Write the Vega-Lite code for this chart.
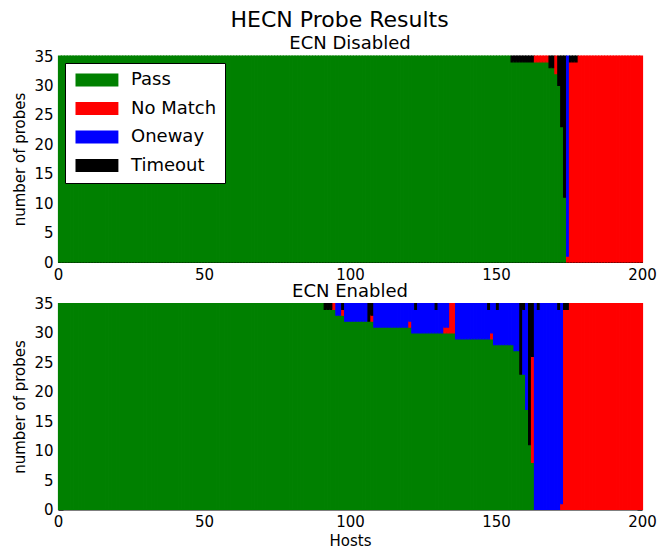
{
"$schema": "https://vega.github.io/schema/vega-lite/v6.json",
"padding": {"left": 12, "top": 9, "right": 0, "bottom": 0},
"title": {"text": "HECN Probe Results", "fontSize": 22, "offset": 3, "anchor": "middle", "dx": 5},
"config": {
  "font": "DejaVu Sans",
  "view": {"stroke": null},
  "title": {"font": "DejaVu Sans", "fontWeight": "normal", "color": "black"},
  "axis": {"domainColor": "black", "domainWidth": 1, "tickColor": "black", "tickWidth": 1, "tickSize": -5, "labelPadding": 10, "labelFontSize": 15, "labelFont": "DejaVu Sans", "labelColor": "black", "titleFont": "DejaVu Sans", "titleFontSize": 15, "titleFontWeight": "normal", "titleColor": "black", "titlePadding": 6, "grid": false, "zindex": 1, "labelFlush": false, "labelOverlap": false}
},
"datasets": {
"dis": [
{"h":0,"a":35},{"h":1,"a":35},{"h":2,"a":35},{"h":3,"a":35},{"h":4,"a":35},{"h":5,"a":35},{"h":6,"a":35},{"h":7,"a":35},{"h":8,"a":35},{"h":9,"a":35},
{"h":10,"a":35},{"h":11,"a":35},{"h":12,"a":35},{"h":13,"a":35},{"h":14,"a":35},{"h":15,"a":35},{"h":16,"a":35},{"h":17,"a":35},{"h":18,"a":35},{"h":19,"a":35},
{"h":20,"a":35},{"h":21,"a":35},{"h":22,"a":35},{"h":23,"a":35},{"h":24,"a":35},{"h":25,"a":35},{"h":26,"a":35},{"h":27,"a":35},{"h":28,"a":35},{"h":29,"a":35},
{"h":30,"a":35},{"h":31,"a":35},{"h":32,"a":35},{"h":33,"a":35},{"h":34,"a":35},{"h":35,"a":35},{"h":36,"a":35},{"h":37,"a":35},{"h":38,"a":35},{"h":39,"a":35},
{"h":40,"a":35},{"h":41,"a":35},{"h":42,"a":35},{"h":43,"a":35},{"h":44,"a":35},{"h":45,"a":35},{"h":46,"a":35},{"h":47,"a":35},{"h":48,"a":35},{"h":49,"a":35},
{"h":50,"a":35},{"h":51,"a":35},{"h":52,"a":35},{"h":53,"a":35},{"h":54,"a":35},{"h":55,"a":35},{"h":56,"a":35},{"h":57,"a":35},{"h":58,"a":35},{"h":59,"a":35},
{"h":60,"a":35},{"h":61,"a":35},{"h":62,"a":35},{"h":63,"a":35},{"h":64,"a":35},{"h":65,"a":35},{"h":66,"a":35},{"h":67,"a":35},{"h":68,"a":35},{"h":69,"a":35},
{"h":70,"a":35},{"h":71,"a":35},{"h":72,"a":35},{"h":73,"a":35},{"h":74,"a":35},{"h":75,"a":35},{"h":76,"a":35},{"h":77,"a":35},{"h":78,"a":35},{"h":79,"a":35},
{"h":80,"a":35},{"h":81,"a":35},{"h":82,"a":35},{"h":83,"a":35},{"h":84,"a":35},{"h":85,"a":35},{"h":86,"a":35},{"h":87,"a":35},{"h":88,"a":35},{"h":89,"a":35},
{"h":90,"a":35},{"h":91,"a":35},{"h":92,"a":35},{"h":93,"a":35},{"h":94,"a":35},{"h":95,"a":35},{"h":96,"a":35},{"h":97,"a":35},{"h":98,"a":35},{"h":99,"a":35},
{"h":100,"a":35},{"h":101,"a":35},{"h":102,"a":35},{"h":103,"a":35},{"h":104,"a":35},{"h":105,"a":35},{"h":106,"a":35},{"h":107,"a":35},{"h":108,"a":35},{"h":109,"a":35},
{"h":110,"a":35},{"h":111,"a":35},{"h":112,"a":35},{"h":113,"a":35},{"h":114,"a":35},{"h":115,"a":35},{"h":116,"a":35},{"h":117,"a":35},{"h":118,"a":35},{"h":119,"a":35},
{"h":120,"a":35},{"h":121,"a":35},{"h":122,"a":35},{"h":123,"a":35},{"h":124,"a":35},{"h":125,"a":35},{"h":126,"a":35},{"h":127,"a":35},{"h":128,"a":35},{"h":129,"a":35},
{"h":130,"a":35},{"h":131,"a":35},{"h":132,"a":35},{"h":133,"a":35},{"h":134,"a":35},{"h":135,"a":35},{"h":136,"a":35},{"h":137,"a":35},{"h":138,"a":35},{"h":139,"a":35},
{"h":140,"a":35},{"h":141,"a":35},{"h":142,"a":35},{"h":143,"a":35},{"h":144,"a":35},{"h":145,"a":35},{"h":146,"a":35},{"h":147,"a":35},{"h":148,"a":35},{"h":149,"a":35},
{"h":150,"a":35},{"h":151,"a":35},{"h":152,"a":35},{"h":153,"a":35},{"h":154,"a":35},
{"h":155,"a":34,"d":1},{"h":156,"a":34,"d":1},{"h":157,"a":34,"d":1},{"h":158,"a":34,"d":1},{"h":159,"a":34,"d":1},{"h":160,"a":34,"d":1},{"h":161,"a":34,"d":1},{"h":162,"a":34,"d":1},
{"h":163,"a":34,"b":1},{"h":164,"a":34,"b":1},{"h":165,"a":34,"b":1},{"h":166,"a":34,"b":1},{"h":167,"a":34,"b":1},
{"h":168,"a":33,"d":2},{"h":169,"a":33,"d":2},
{"h":170,"a":32,"b":3},
{"h":171,"a":30,"d":5},
{"h":172,"a":23,"d":12},
{"h":173,"a":11,"d":24},
{"h":174,"b":1,"c":34},
{"h":175,"b":34,"d":1},{"h":176,"b":34,"d":1},{"h":177,"b":34,"d":1},
{"h":178,"b":35},{"h":179,"b":35},{"h":180,"b":35},{"h":181,"b":35},{"h":182,"b":35},{"h":183,"b":35},{"h":184,"b":35},{"h":185,"b":35},{"h":186,"b":35},{"h":187,"b":35},
{"h":188,"b":35},{"h":189,"b":35},{"h":190,"b":35},{"h":191,"b":35},{"h":192,"b":35},{"h":193,"b":35},{"h":194,"b":35},{"h":195,"b":35},{"h":196,"b":35},{"h":197,"b":35},
{"h":198,"b":35},{"h":199,"b":35}
],
"ena": [
{"h":0,"a":35},{"h":1,"a":35},{"h":2,"a":35},{"h":3,"a":35},{"h":4,"a":35},{"h":5,"a":35},{"h":6,"a":35},{"h":7,"a":35},{"h":8,"a":35},{"h":9,"a":35},
{"h":10,"a":35},{"h":11,"a":35},{"h":12,"a":35},{"h":13,"a":35},{"h":14,"a":35},{"h":15,"a":35},{"h":16,"a":35},{"h":17,"a":35},{"h":18,"a":35},{"h":19,"a":35},
{"h":20,"a":35},{"h":21,"a":35},{"h":22,"a":35},{"h":23,"a":35},{"h":24,"a":35},{"h":25,"a":35},{"h":26,"a":35},{"h":27,"a":35},{"h":28,"a":35},{"h":29,"a":35},
{"h":30,"a":35},{"h":31,"a":35},{"h":32,"a":35},{"h":33,"a":35},{"h":34,"a":35},{"h":35,"a":35},{"h":36,"a":35},{"h":37,"a":35},{"h":38,"a":35},{"h":39,"a":35},
{"h":40,"a":35},{"h":41,"a":35},{"h":42,"a":35},{"h":43,"a":35},{"h":44,"a":35},{"h":45,"a":35},{"h":46,"a":35},{"h":47,"a":35},{"h":48,"a":35},{"h":49,"a":35},
{"h":50,"a":35},{"h":51,"a":35},{"h":52,"a":35},{"h":53,"a":35},{"h":54,"a":35},{"h":55,"a":35},{"h":56,"a":35},{"h":57,"a":35},{"h":58,"a":35},{"h":59,"a":35},
{"h":60,"a":35},{"h":61,"a":35},{"h":62,"a":35},{"h":63,"a":35},{"h":64,"a":35},{"h":65,"a":35},{"h":66,"a":35},{"h":67,"a":35},{"h":68,"a":35},{"h":69,"a":35},
{"h":70,"a":35},{"h":71,"a":35},{"h":72,"a":35},{"h":73,"a":35},{"h":74,"a":35},{"h":75,"a":35},{"h":76,"a":35},{"h":77,"a":35},{"h":78,"a":35},{"h":79,"a":35},
{"h":80,"a":35},{"h":81,"a":35},{"h":82,"a":35},{"h":83,"a":35},{"h":84,"a":35},{"h":85,"a":35},{"h":86,"a":35},{"h":87,"a":35},{"h":88,"a":35},{"h":89,"a":35},
{"h":90,"a":35},
{"h":91,"a":34,"d":1},{"h":92,"a":34,"d":1},{"h":93,"a":34,"d":1},
{"h":94,"a":34,"b":1},
{"h":95,"a":33,"c":2},{"h":96,"a":33,"c":2},
{"h":97,"a":33,"b":1,"d":1},
{"h":98,"a":32,"c":3},{"h":99,"a":32,"c":3},{"h":100,"a":32,"c":3},{"h":101,"a":32,"c":3},{"h":102,"a":32,"c":3},{"h":103,"a":32,"c":3},{"h":104,"a":32,"c":3},{"h":105,"a":32,"c":3},
{"h":106,"a":32,"d":3},
{"h":107,"a":32,"b":1,"d":2},
{"h":108,"a":31,"c":4},{"h":109,"a":31,"c":4},{"h":110,"a":31,"c":4},{"h":111,"a":31,"c":4},{"h":112,"a":31,"c":4},{"h":113,"a":31,"c":4},{"h":114,"a":31,"c":4},{"h":115,"a":31,"c":4},{"h":116,"a":31,"c":4},{"h":117,"a":31,"c":4},{"h":118,"a":31,"c":4},{"h":119,"a":31,"c":4},
{"h":120,"a":31,"b":1,"c":3},
{"h":121,"a":30,"c":5},
{"h":122,"a":30,"c":4,"d":1},
{"h":123,"a":30,"c":5},{"h":124,"a":30,"c":5},{"h":125,"a":30,"c":5},{"h":126,"a":30,"c":5},{"h":127,"a":30,"c":5},{"h":128,"a":30,"c":5},
{"h":129,"a":30,"c":4,"d":1},
{"h":130,"a":30,"c":5},{"h":131,"a":30,"c":5},
{"h":132,"a":30,"b":1,"c":4},{"h":133,"a":30,"b":1,"c":4},
{"h":134,"a":30,"b":5},{"h":135,"a":30,"b":5},
{"h":136,"a":29,"c":6},{"h":137,"a":29,"c":6},{"h":138,"a":29,"c":6},{"h":139,"a":29,"c":6},{"h":140,"a":29,"c":6},{"h":141,"a":29,"c":6},{"h":142,"a":29,"c":6},{"h":143,"a":29,"c":6},{"h":144,"a":29,"c":6},{"h":145,"a":29,"c":6},{"h":146,"a":29,"c":6},
{"h":147,"a":29,"c":5,"d":1},
{"h":148,"a":29,"b":1,"c":5},
{"h":149,"a":28,"c":7},
{"h":150,"a":28,"c":6,"d":1},
{"h":151,"a":28,"c":7},{"h":152,"a":28,"c":7},{"h":153,"a":28,"c":7},{"h":154,"a":28,"c":7},{"h":155,"a":28,"c":7},
{"h":156,"a":27,"c":8},{"h":157,"a":27,"c":8},
{"h":158,"a":23,"d":12},
{"h":159,"a":23,"c":11,"d":1},
{"h":160,"a":17,"c":18},
{"h":161,"a":11,"d":24},
{"h":162,"a":8,"b":18,"d":9},
{"h":163,"c":35},
{"h":164,"c":34,"d":1},
{"h":165,"c":35},{"h":166,"c":35},{"h":167,"c":35},{"h":168,"c":35},{"h":169,"c":35},{"h":170,"c":35},
{"h":171,"c":34,"d":1},
{"h":172,"b":1,"c":34},
{"h":173,"b":34,"d":1},{"h":174,"b":34,"d":1},
{"h":175,"b":35},{"h":176,"b":35},{"h":177,"b":35},{"h":178,"b":35},{"h":179,"b":35},{"h":180,"b":35},{"h":181,"b":35},{"h":182,"b":35},{"h":183,"b":35},{"h":184,"b":35},
{"h":185,"b":35},{"h":186,"b":35},{"h":187,"b":35},{"h":188,"b":35},{"h":189,"b":35},{"h":190,"b":35},{"h":191,"b":35},{"h":192,"b":35},{"h":193,"b":35},{"h":194,"b":35},
{"h":195,"b":35},{"h":196,"b":35},{"h":197,"b":35},{"h":198,"b":35},{"h":199,"b":35}
]
},
"spacing": 0.5,
"resolve": {"scale": {"color": "independent", "stroke": "independent"}},
"vconcat": [
{
  "width": 584, "height": 206,
  "title": {"text": "ECN Disabled", "fontSize": 18, "offset": -4.3},
  "layer": [
    {
      "data": {"name": "dis"},
      "transform": [{"fold": ["a", "b", "c", "d"], "as": ["k", "n"]}, {"filter": "isValid(datum.n)"}],
      "mark": {"type": "bar", "binSpacing": 0, "strokeWidth": 1.2},
      "encoding": {
        "x": {"field": "h", "type": "quantitative", "bin": {"binned": true, "step": 1}, "scale": {"domain": [0, 200], "nice": false, "zero": false}, "axis": {"values": [0, 50, 100, 150, 200], "title": null, "format": "d"}},
        "y": {"field": "n", "type": "quantitative", "scale": {"domain": [0, 35], "nice": false}, "axis": {"values": [0, 5, 10, 15, 20, 25, 30, 35], "title": "number of probes"}},
        "color": {"field": "k", "type": "nominal", "scale": {"domain": ["a", "b", "c", "d"], "range": ["#008000", "#ff0000", "#0000ff", "#000000"]},
          "legend": {"orient": "top-left", "offset": 6.5, "title": null, "labelExpr": "datum.label == 'a' ? 'Pass' : datum.label == 'b' ? 'No Match' : datum.label == 'c' ? 'Oneway' : 'Timeout'", "labelFontSize": 18, "labelColor": "black", "labelFont": "DejaVu Sans", "labelOffset": 40, "labelBaseline": "middle", "symbolType": "M-1,-1H5.6V1H-1Z", "symbolSize": 169, "symbolStrokeWidth": 0, "symbolOpacity": 1, "padding": 8, "rowPadding": 10.5, "strokeColor": "black", "fillColor": "white", "cornerRadius": 0, "zindex": 2}},
        "stroke": {"field": "k", "type": "nominal", "scale": {"domain": ["a", "b", "c", "d"], "range": ["#008000", "#ff0000", "#0000ff", "#000000"]}, "legend": null},
        "order": {"field": "k", "sort": "ascending"}
      }
    },
    {
      "data": {"values": [{}]},
      "mark": {"type": "point", "opacity": 0},
      "encoding": {
        "x": {"datum": 0, "type": "quantitative", "axis": {"orient": "top", "labels": false, "title": null, "values": [0, 50, 100, 150, 200]}},
        "y": {"datum": 0, "type": "quantitative", "axis": {"orient": "right", "labels": false, "title": null, "values": [0, 5, 10, 15, 20, 25, 30, 35]}}
      }
    }
  ],
  "resolve": {"axis": {"x": "independent", "y": "independent"}}
},
{
  "width": 584, "height": 206,
  "title": {"text": "ECN Enabled", "fontSize": 18, "offset": -4.3},
  "layer": [
    {
      "data": {"name": "ena"},
      "transform": [{"fold": ["a", "b", "c", "d"], "as": ["k", "n"]}, {"filter": "isValid(datum.n)"}],
      "mark": {"type": "bar", "binSpacing": 0, "strokeWidth": 1.2},
      "encoding": {
        "x": {"field": "h", "type": "quantitative", "bin": {"binned": true, "step": 1}, "scale": {"domain": [0, 200], "nice": false, "zero": false}, "axis": {"values": [0, 50, 100, 150, 200], "title": "Hosts", "titlePadding": 4, "format": "d"}},
        "y": {"field": "n", "type": "quantitative", "scale": {"domain": [0, 35], "nice": false}, "axis": {"values": [0, 5, 10, 15, 20, 25, 30, 35], "title": "number of probes"}},
        "color": {"field": "k", "type": "nominal", "scale": {"domain": ["a", "b", "c", "d"], "range": ["#008000", "#ff0000", "#0000ff", "#000000"]}, "legend": null},
        "stroke": {"field": "k", "type": "nominal", "scale": {"domain": ["a", "b", "c", "d"], "range": ["#008000", "#ff0000", "#0000ff", "#000000"]}, "legend": null},
        "order": {"field": "k", "sort": "ascending"}
      }
    },
    {
      "data": {"values": [{}]},
      "mark": {"type": "point", "opacity": 0},
      "encoding": {
        "x": {"datum": 0, "type": "quantitative", "axis": {"orient": "top", "labels": false, "title": null, "values": [0, 50, 100, 150, 200]}},
        "y": {"datum": 0, "type": "quantitative", "axis": {"orient": "right", "labels": false, "title": null, "values": [0, 5, 10, 15, 20, 25, 30, 35]}}
      }
    }
  ],
  "resolve": {"axis": {"x": "independent", "y": "independent"}}
}
]
}
